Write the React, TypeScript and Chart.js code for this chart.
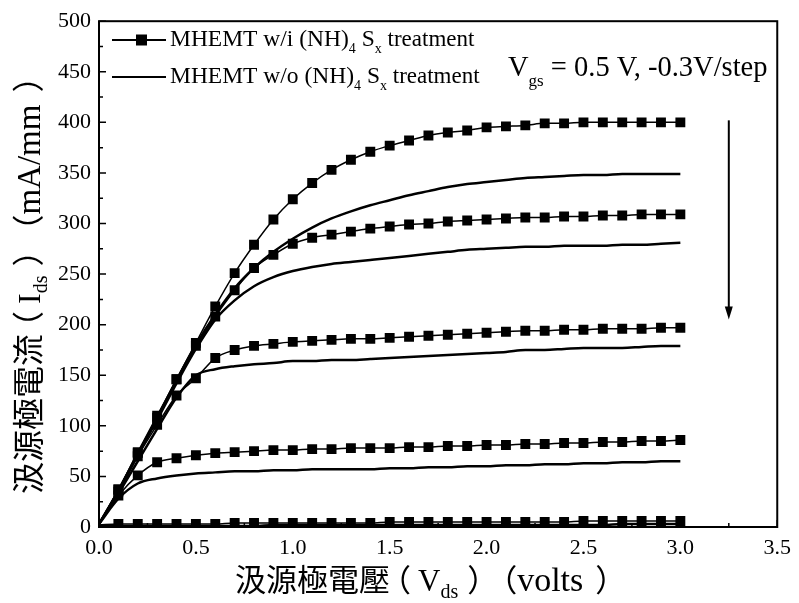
import React, { useEffect, useRef } from "react";
import { Chart, registerables } from "chart.js";

Chart.register(...registerables);

const vds = [0, 0.1, 0.2, 0.3, 0.4, 0.5, 0.6, 0.7, 0.8, 0.9, 1.0, 1.1, 1.2, 1.3, 1.4, 1.5, 1.6, 1.7, 1.8, 1.9, 2.0, 2.1, 2.2, 2.3, 2.4, 2.5, 2.6, 2.7, 2.8, 2.9, 3.0];

// MHEMT with (NH4)Sx treatment (square markers), Vgs = 0.5 V, -0.3 V/step
const withT1 = [3, 37, 74, 110, 146, 182, 218, 251, 279, 304, 324, 340, 353, 363, 371, 377, 382, 387, 390, 392, 395, 396, 397, 399, 399, 400, 400, 400, 400, 400, 400];
const withT2 = [3, 37, 73, 108, 146, 179, 208, 234, 256, 269, 280, 286, 289, 292, 295, 297, 299, 300, 302, 303, 304, 305, 306, 306, 307, 307, 308, 308, 309, 309, 309];
const withT3 = [3, 35, 70, 101, 130, 147, 167, 175, 179, 181, 183, 184, 185, 186, 186, 187, 188, 189, 190, 191, 192, 193, 194, 194, 195, 195, 196, 196, 196, 197, 197];
const withT4 = [3, 31, 51, 64, 68, 71, 73, 74, 75, 76, 76, 77, 77, 78, 78, 78, 79, 79, 80, 80, 81, 81, 82, 82, 83, 83, 84, 84, 85, 85, 86];
const withT5 = [2, 3, 3, 3, 3, 3, 3, 4, 4, 4, 4, 4, 4, 4, 4, 5, 5, 5, 5, 5, 5, 5, 5, 5, 5, 6, 6, 6, 6, 6, 6];

// MHEMT without treatment (solid lines)
const woT1 = [3, 36, 72, 108, 145, 180, 210, 236, 256, 272, 285, 296, 305, 312, 318, 323, 328, 332, 336, 339, 341, 343, 345, 346, 347, 348, 348, 349, 349, 349, 349];
const woT2 = [3, 35, 71, 106, 142, 176, 205, 224, 238, 247, 253, 257, 260, 262, 264, 266, 268, 270, 272, 274, 275, 276, 277, 277, 278, 278, 278, 279, 279, 280, 281];
const woT3 = [3, 33, 65, 97, 128, 150, 156, 159, 161, 162, 164, 164, 165, 165, 166, 167, 168, 169, 170, 171, 172, 173, 175, 175, 176, 177, 177, 177, 178, 179, 179];
const woT4 = [3, 28, 43, 48, 51, 53, 54, 55, 55, 56, 56, 57, 57, 57, 57, 58, 58, 59, 59, 60, 60, 61, 61, 62, 62, 63, 63, 64, 64, 65, 65];
const woT5 = [1, 1, 1, 1, 1, 1, 1, 1, 1, 2, 2, 2, 2, 2, 2, 2, 2, 2, 2, 2, 2, 2, 2, 2, 2, 2, 2, 3, 3, 3, 3];

const withSeries = [withT1, withT2, withT3, withT4, withT5];
const withoutSeries = [woT1, woT2, woT3, woT4, woT5];

const legendLabels = ["MHEMT w/i (NH)", "MHEMT w/o (NH)"];
const xTickMinor = [0.25, 0.75, 1.25, 1.75, 2.25, 2.75, 3.25];
const yTickMinor = [25, 75, 125, 175, 225, 275, 325, 375, 425, 475];
const arrowFrom = 402;
const arrowTo = 205;
const arrowX = 3.25;

const SERIF = '"Liberation Serif", "DejaVu Serif", serif';
const CJK = '"Noto Sans CJK TC", "Noto Sans CJK SC", sans-serif';

// shift: offset of the glyph inside its advance (used to centre full-width brackets)
type Seg = { t: string; f: string; dy?: number; shift?: number };

function drawSegs(ctx: CanvasRenderingContext2D, segs: Seg[], x: number, y: number) {
  let cx = x;
  ctx.textAlign = "left";
  ctx.textBaseline = "alphabetic";
  segs.forEach((s) => {
    ctx.font = s.f;
    ctx.fillText(s.t, cx + (s.shift || 0), y + (s.dy || 0));
    cx += ctx.measureText(s.t).width;
  });
}

const decorPlugin = {
  id: "decor",
  afterDraw(chart: any) {
    const ctx: CanvasRenderingContext2D = chart.ctx;
    const { left, right, top, bottom } = chart.chartArea;
    const xs = chart.scales.x;
    const ys = chart.scales.y;
    ctx.save();
    ctx.strokeStyle = "#000";
    ctx.fillStyle = "#000";
    // frame
    ctx.lineWidth = 2;
    ctx.strokeRect(left, top, right - left, bottom - top);
    // ticks (inward)
    ctx.lineWidth = 1.5;
    ctx.beginPath();
    xs.ticks.forEach((t: any) => {
      const px = xs.getPixelForValue(t.value);
      ctx.moveTo(px, bottom);
      ctx.lineTo(px, bottom - 7);
    });
    xTickMinor.forEach((v) => {
      const px = xs.getPixelForValue(v);
      ctx.moveTo(px, bottom);
      ctx.lineTo(px, bottom - 4);
    });
    ys.ticks.forEach((t: any) => {
      const py = ys.getPixelForValue(t.value);
      ctx.moveTo(left, py);
      ctx.lineTo(left + 7, py);
    });
    yTickMinor.forEach((v) => {
      const py = ys.getPixelForValue(v);
      ctx.moveTo(left, py);
      ctx.lineTo(left + 4, py);
    });
    ctx.stroke();

    // legend
    const rows = [40, 77];
    ctx.lineWidth = 2;
    rows.forEach((ry, i) => {
      ctx.beginPath();
      ctx.moveTo(112, ry);
      ctx.lineTo(166, ry);
      ctx.stroke();
      if (i === 0) {
        ctx.fillRect(136, ry - 5.5, 11, 11);
      }
      drawSegs(
        ctx,
        [
          { t: legendLabels[i], f: `23.5px ${SERIF}` },
          { t: "4", f: `14px ${SERIF}`, dy: 7 },
          { t: " S", f: `23.5px ${SERIF}` },
          { t: "x", f: `14px ${SERIF}`, dy: 7 },
          { t: " treatment", f: `23px ${SERIF}` },
        ],
        170,
        ry + 6
      );
    });

    // Vgs annotation
    drawSegs(
      ctx,
      [
        { t: "V", f: `28.5px ${SERIF}` },
        { t: "gs", f: `17px ${SERIF}`, dy: 10 },
        { t: " = 0.5 V, -0.3V/step", f: `28.5px ${SERIF}` },
      ],
      508,
      76
    );

    // arrow
    const ax = xs.getPixelForValue(arrowX);
    const ay1 = ys.getPixelForValue(arrowFrom);
    const ay2 = ys.getPixelForValue(arrowTo);
    ctx.lineWidth = 2;
    ctx.beginPath();
    ctx.moveTo(ax, ay1);
    ctx.lineTo(ax, ay2 - 10);
    ctx.stroke();
    ctx.beginPath();
    ctx.moveTo(ax - 4, ay2 - 13);
    ctx.lineTo(ax + 4, ay2 - 13);
    ctx.lineTo(ax, ay2);
    ctx.closePath();
    ctx.fill();

    // x title
    drawSegs(
      ctx,
      [
        { t: "汲源極電壓", f: `31px ${CJK}` },
        { t: "（", f: `31px ${CJK}`, shift: -10 },
        { t: "V", f: `31px ${SERIF}`, shift: -3 },
        { t: "ds", f: `20px ${SERIF}`, dy: 7, shift: -3 },
        { t: "）", f: `31px ${CJK}`, shift: 6 },
        { t: "（", f: `31px ${CJK}`, shift: -6 },
        { t: "volts", f: `34px ${SERIF}`, shift: -6 },
        { t: "）", f: `31px ${CJK}`, shift: 6 },
      ],
      235,
      591
    );

    // y title
    ctx.save();
    ctx.translate(40, 494);
    ctx.rotate(-Math.PI / 2);
    drawSegs(
      ctx,
      [
        { t: "汲源極電流", f: `32px ${CJK}` },
        { t: "（", f: `32px ${CJK}`, shift: -9 },
        { t: "I", f: `32px ${SERIF}`, shift: -2 },
        { t: "ds", f: `20px ${SERIF}`, dy: 7, shift: -2 },
        { t: "）", f: `32px ${CJK}`, shift: 7 },
        { t: "（", f: `32px ${CJK}`, shift: -5 },
        { t: "mA/mm", f: `33px ${SERIF}`, shift: -5 },
        { t: "）", f: `32px ${CJK}`, shift: 7 },
      ],
      0,
      0
    );
    ctx.restore();
    ctx.restore();
  },
};

export default function App() {
  const ref = useRef<HTMLCanvasElement | null>(null);
  useEffect(() => {
    if (!ref.current) return;
    const datasets: any[] = [];
    withoutSeries.forEach((s) => {
      datasets.push({
        data: vds.map((x, i) => ({ x, y: s[i] })),
        borderColor: "#000",
        borderWidth: 2.5,
        pointRadius: 0,
        cubicInterpolationMode: "monotone",
        fill: false,
      });
    });
    withSeries.forEach((s) => {
      datasets.push({
        data: vds.map((x, i) => ({ x, y: s[i] })),
        borderColor: "#000",
        backgroundColor: "#000",
        borderWidth: 1.5,
        pointStyle: "rect",
        pointRadius: (c: any) => (c.dataIndex === 0 ? 0 : 7),
        pointBorderWidth: 0,
        pointHoverRadius: 7,
        cubicInterpolationMode: "monotone",
        fill: false,
      });
    });
    const chart = new Chart(ref.current, {
      type: "line",
      data: { datasets },
      plugins: [decorPlugin],
      options: {
        responsive: false,
        animation: false,
        layout: { padding: { top: 18, right: 17, left: 0, bottom: 0 } },
        plugins: { legend: { display: false }, tooltip: { enabled: false } },
        scales: {
          x: {
            type: "linear",
            min: 0,
            max: 3.5,
            ticks: {
              stepSize: 0.5,
              color: "#000",
              padding: 8,
              font: { family: SERIF, size: 22 },
              callback: (v: any) => Number(v).toFixed(1),
            },
            grid: { display: true, drawOnChartArea: false, drawTicks: false },
            border: { display: false },
            afterFit: (s: any) => {
              s.height = 76;
            },
          },
          y: {
            type: "linear",
            min: 0,
            max: 500,
            ticks: {
              stepSize: 50,
              color: "#000",
              padding: 8,
              font: { family: SERIF, size: 22 },
            },
            grid: { display: true, drawOnChartArea: false, drawTicks: false },
            border: { display: false },
            afterFit: (s: any) => {
              s.width = 99;
            },
          },
        },
      },
    });
    return () => chart.destroy();
  }, []);
  return (
    <canvas
      ref={ref}
      width={799}
      height={603}
      style={{ position: "absolute", left: 0, top: 0, background: "#fff" }}
    />
  );
}
